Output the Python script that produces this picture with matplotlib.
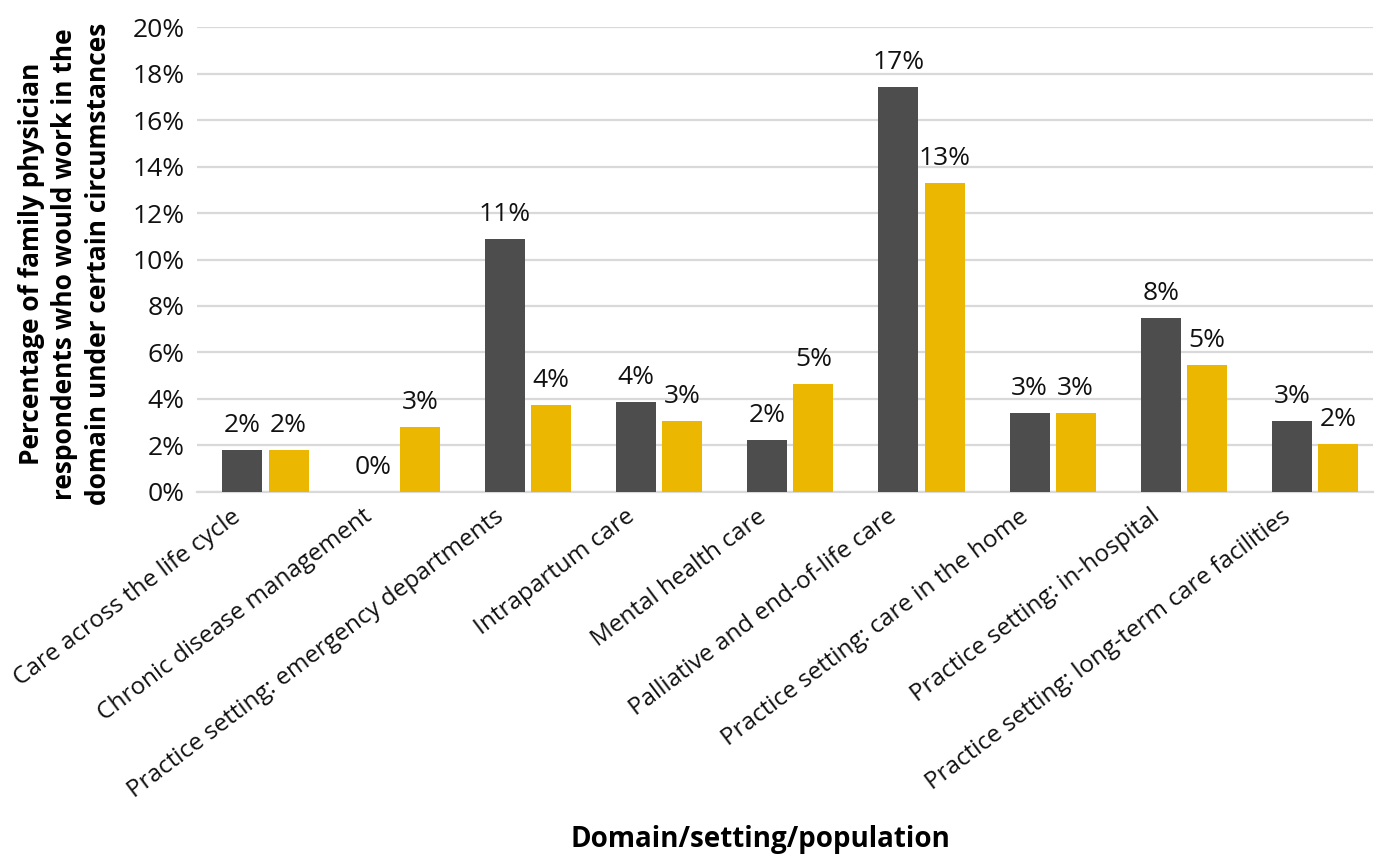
import numpy as np
import matplotlib
matplotlib.use("Agg")
import matplotlib.pyplot as plt
from matplotlib.transforms import ScaledTranslation

plt.rcParams["font.family"] = ["Open Sans", "DejaVu Sans"]

categories = [
    "Care across the life cycle",
    "Chronic disease management",
    "Practice setting: emergency departments",
    "Intrapartum care",
    "Mental health care",
    "Palliative and end-of-life care",
    "Practice setting: care in the home",
    "Practice setting: in-hospital",
    "Practice setting: long-term care facilities",
]
# percent of respondents, two groups
series_dark = [1.8, 0.0, 10.9, 3.85, 2.25, 17.4, 3.4, 7.5, 3.05]
series_gold = [1.8, 2.8, 3.75, 3.05, 4.65, 13.3, 3.4, 5.45, 2.05]
y_ticks = list(range(0, 21, 2))

DARK = "#4d4d4d"
GOLD = "#ebb700"
GRID = "#d9d9d9"
INK = "#111111"

fig = plt.figure(figsize=(13.79, 8.58), dpi=100)
ax = fig.add_axes([0.1429, 0.4266, 0.8527, 0.5419])

x = np.arange(len(categories))
w = 0.305
off = 0.176
b1 = ax.bar(x - off, series_dark, width=w, color=DARK, zorder=3)
b2 = ax.bar(x + off, series_gold, width=w, color=GOLD, zorder=3)

for bars, vals in ((b1, series_dark), (b2, series_gold)):
    for rect, v in zip(bars, vals):
        ax.annotate(f"{v:.0f}%", (rect.get_x() + rect.get_width() / 2, v),
                    xytext=(0, 13), textcoords="offset points",
                    ha="center", va="baseline", fontsize=19, color=INK)

ax.set_xlim(-0.522, 8.442)
ax.set_ylim(0, 20)
ax.set_yticks(y_ticks)
ax.set_yticklabels([f"{t}%" for t in y_ticks], fontsize=19, color=INK)
ax.yaxis.grid(True, color=GRID, linewidth=1.6, zorder=0)
ax.tick_params(axis="y", length=0, pad=9)
ax.tick_params(axis="x", length=0, pad=6)
for side in ("top", "right", "left"):
    ax.spines[side].set_visible(False)
ax.spines["bottom"].set_color(GRID)
ax.spines["bottom"].set_linewidth(1.6)

ax.set_xticks(x)
ax.set_xticklabels(categories, rotation=37, ha="right", va="center",
                   rotation_mode="anchor", fontsize=17.5, color=INK)
# nudge the slanted category names a little left and down
shift = ScaledTranslation(-0.27, -0.14, fig.dpi_scale_trans)
for lbl in ax.get_xticklabels():
    lbl.set_transform(lbl.get_transform() + shift)

ax.set_xlabel("Domain/setting/population", fontsize=20, fontweight="bold",
              va="center")
ax.xaxis.set_label_coords(0.479, -0.748)
ax.set_ylabel("Percentage of family physician\nrespondents who would work in the\n"
              "domain under certain circumstances",
              fontsize=19, fontweight="bold", linespacing=1.33)
ax.yaxis.set_label_coords(-0.072, 0.49)

fig.savefig("out.png", dpi=100)
